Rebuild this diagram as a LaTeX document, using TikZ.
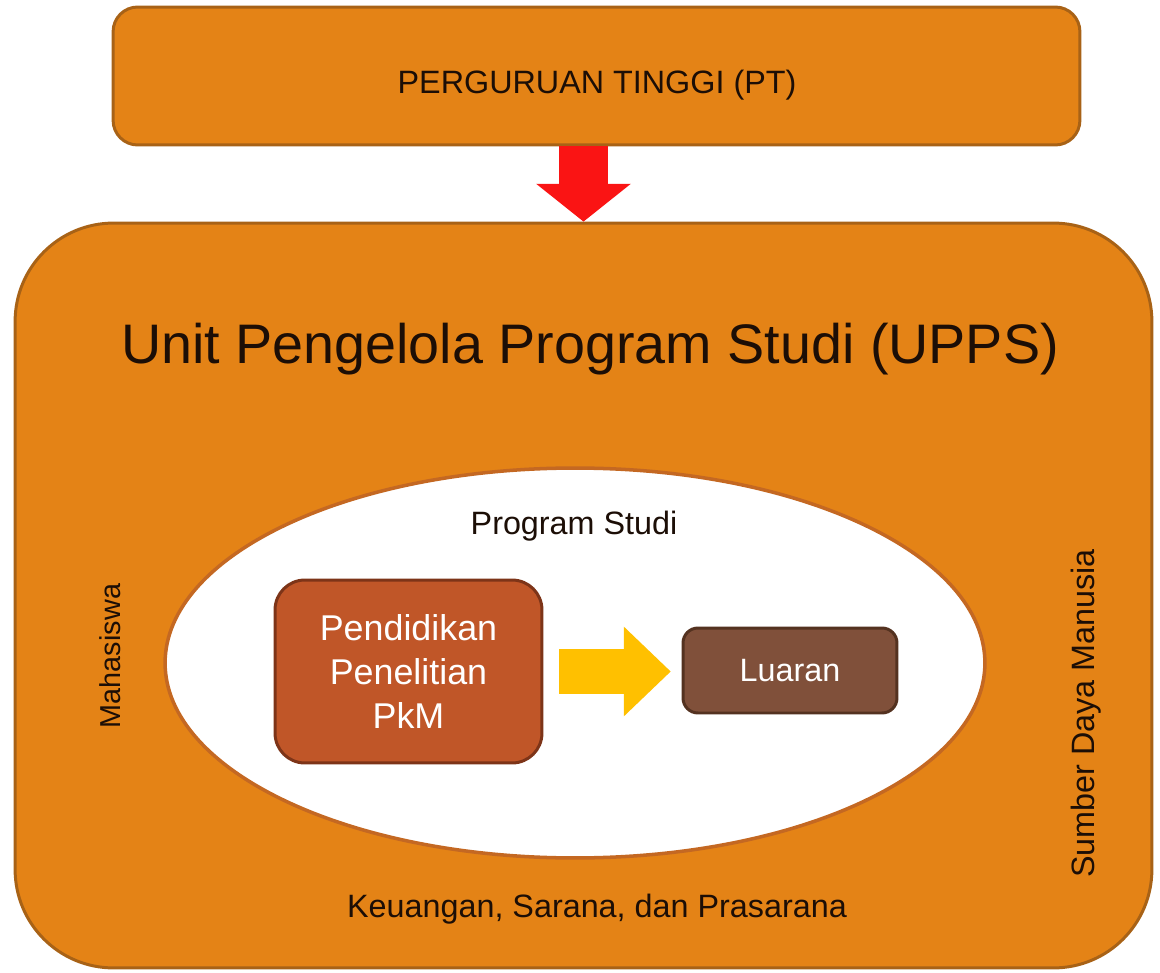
\documentclass[tikz,border=0pt]{standalone}
\usepackage{fontspec}
\setmainfont{Liberation Sans}
\usetikzlibrary{arrows.meta,shapes.geometric}

\definecolor{uppsorange}{RGB}{228,131,22}
\definecolor{uppsborder}{RGB}{168,98,22}
\definecolor{ellipseborder}{RGB}{196,104,34}
\definecolor{kegiatanfill}{RGB}{192,86,40}
\definecolor{kegiatanborder}{RGB}{125,52,24}
\definecolor{luaranfill}{RGB}{128,80,58}
\definecolor{luaranborder}{RGB}{84,50,32}
\definecolor{arrowred}{RGB}{250,20,20}
\definecolor{arrowyellow}{RGB}{255,192,0}
\definecolor{textdark}{RGB}{28,14,6}

\begin{document}
\begin{tikzpicture}[x=0.02cm,y=-0.02cm]
	\tikzstyle{block} = [draw=uppsborder,fill=uppsorange,line width=1.7pt,inner sep=0pt]
	\tikzstyle{label} = [text=textdark,inner sep=0pt,font=\fontsize{18.4}{22}\selectfont]
	\tikzstyle{whitetext} = [text=white,align=center,font=\fontsize{20.4}{25}\selectfont]
	\useasboundingbox (0,0) rectangle (1160,973);
	% perguruan tinggi
	\node[block,rounded corners=14pt,minimum width=19.34cm,minimum height=2.76cm] (pt) at (596.5,76) {};
	\node[label,anchor=base] (pttext) at (597,94) {PERGURUAN TINGGI (PT)};
	% upps
	\node[block,rounded corners=56pt,minimum width=22.74cm,minimum height=14.9cm] (upps) at (583.5,595.5) {};
	\node[label,anchor=base,font=\fontsize{31.7}{36}\selectfont] (uppstext) at (590,363) {Unit Pengelola Program Studi (UPPS)};
	% pt to upps
	\draw[arrowred,line width=27.8pt,-{Triangle[width=53.9pt,length=21.5pt,line width=0pt]}]
		(upps.north |- pt.south) -- (upps.north);
	% program studi
	\node[ellipse,draw=ellipseborder,fill=white,line width=2pt,minimum width=16.4cm,minimum height=7.8cm] (prodi) at (575,663) {};
	\node[label,anchor=base] (proditext) at (574,534) {Program Studi};
	\node[whitetext,draw=kegiatanborder,fill=kegiatanfill,line width=1.7pt,rounded corners=17pt,minimum width=5.34cm,minimum height=3.66cm] (kegiatan) at (408.5,671.5) {Pendidikan\\Penelitian\\PkM};
	\node[whitetext,draw=luaranborder,fill=luaranfill,line width=1.7pt,rounded corners=8.5pt,minimum width=4.28cm,minimum height=1.7cm,font=\fontsize{18.4}{22}\selectfont] (luaran) at (790,670.5) {Luaran};
	\draw[arrowyellow,line width=26pt,shorten <=9pt,shorten >=6.2pt,-{Triangle[width=51pt,length=26.6pt,line width=0pt]}]
		(kegiatan.east) -- (kegiatan.east -| luaran.west);
	% resources
	\node[label,rotate=90,font=\fontsize{16.4}{20}\selectfont] (mahasiswa) at (110,656) {Mahasiswa};
	\node[label,rotate=90] (sdm) at (1086,713.5) {Sumber Daya Manusia};
	\node[label,anchor=base] (keuangan) at (597,917) {Keuangan, Sarana, dan Prasarana};
\end{tikzpicture}
\end{document}
